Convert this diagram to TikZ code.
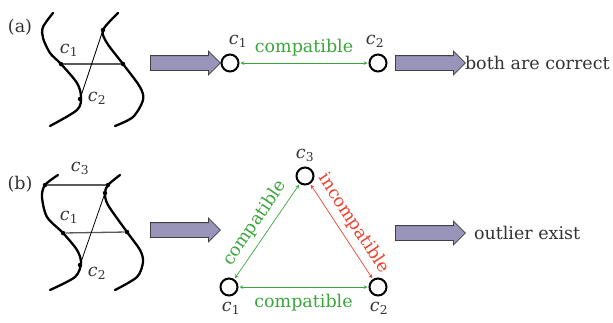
\documentclass[tikz,border=0pt]{standalone}
\usepackage{fontspec}
\setmainfont{DejaVu Serif}
\usetikzlibrary{shapes.arrows}
\definecolor{okgreen}{RGB}{60,165,60}
\definecolor{badred}{RGB}{235,65,45}
\definecolor{arrowfill}{RGB}{152,148,186}
\newcommand{\cvar}[1]{\textit{c}\textsubscript{#1}}
\tikzset{
  vtx/.style={draw, circle, line width=2pt, minimum size=17pt, inner sep=0pt},
  fatarrow/.style={single arrow, draw=black!75, fill=arrowfill, line width=0.8pt, inner xsep=0pt, inner ysep=7pt, single arrow head extend=4.5pt, minimum height=70pt, anchor=tail},
  strand/.style={line width=2.3pt, line cap=round},
  pin/.style={circle, fill, inner sep=0pt, minimum size=4.5pt},
  link/.style={<->, line width=0.7pt, shorten <=1pt, shorten >=1pt},
  lbl/.style={text=black!80},
}
\begin{document}
\fontsize{17.5}{21}\selectfont
\begin{tikzpicture}[x=1pt, y=-1pt, >=stealth]
\useasboundingbox (0,0) rectangle (613,322);
% (a) two strands
\node[lbl] (tagA) at (20,27) {(a)};
\draw[strand] plot[smooth] coordinates {(53,13) (43,27) (43,38) (50,53) (61,64) (77,83) (81,97) (77,110) (50,126)};
\draw[strand] plot[smooth] coordinates {(118,13) (103,30) (107,43) (123,64) (140,87) (143,100) (133,117) (115,126)};
\node[pin] (pA1) at (61,64) {};
\node[pin] (pA2) at (123,64) {};
\node[pin] (pA3) at (103,30) {};
\node[pin] (pA4) at (80,99) {};
\draw[draw=black!65, line width=1.5pt] (pA1) -- (pA2);
\draw[line width=0.8pt] (pA3) -- (pA4);
\node[lbl] (lA1) at (69,50) {\cvar{1}};
\node[lbl] (lA2) at (97,98) {\cvar{2}};
% (a) pair check
\node[fatarrow] (arA1) at (150,63) {};
\node[vtx] (cA1) at (230,63) {};
\node[vtx] (cA2) at (378,63) {};
\node[lbl] (nA1) at (238,41) {\cvar{1}};
\node[lbl] (nA2) at (375,41) {\cvar{2}};
\draw[link, okgreen] (cA1) -- node[above=1pt, text=okgreen] {compatible} (cA2);
\node[fatarrow] (arA2) at (395,63) {};
\node[lbl, anchor=west] (resA) at (459,63) {both are correct};
% (b) two strands
\node[lbl] (tagB) at (20,184) {(b)};
\draw[strand] plot[smooth] coordinates {(58,175) (45,185) (42,197) (47,217) (63,233) (77,250) (81,263) (75,277) (50,290)};
\draw[strand] plot[smooth] coordinates {(120,175) (108,185) (105,193) (108,205) (127,232) (140,250) (143,262) (137,277) (115,290)};
\node[pin] (pB1) at (45,185) {};
\node[pin] (pB2) at (108,185) {};
\node[pin] (pB3) at (63,233) {};
\node[pin] (pB4) at (127,232) {};
\node[pin] (pB5) at (105,193) {};
\node[pin] (pB6) at (80,265) {};
\draw[draw=black!65, line width=1.3pt] (pB1) -- (pB2);
\draw[draw=black!65, line width=1.3pt] (pB3) -- (pB4);
\draw[line width=0.8pt] (pB5) -- (pB6);
\node[lbl] (lB3) at (80,168) {\cvar{3}};
\node[lbl] (lB1) at (69,217) {\cvar{1}};
\node[lbl] (lB2) at (97,273) {\cvar{2}};
% (b) triple check
\node[fatarrow] (arB1) at (150,230) {};
\node[vtx] (cB3) at (305,176) {};
\node[vtx] (cB1) at (229,287) {};
\node[vtx] (cB2) at (378,287) {};
\node[lbl] (nB3) at (305,155) {\cvar{3}};
\node[lbl] (nB1) at (231,308) {\cvar{1}};
\node[lbl] (nB2) at (379,308) {\cvar{2}};
\draw[link, okgreen] (cB1) -- node[sloped, above=0pt, text=okgreen] {compatible} (cB3);
\draw[link, badred] (cB3) -- node[sloped, above=0pt, text=badred] {incompatible} (cB2);
\draw[link, okgreen] (cB1) -- node[below=1pt, text=okgreen] {compatible} (cB2);
\node[fatarrow] (arB2) at (395,233) {};
\node[lbl, anchor=west] (resB) at (468,233) {outlier exist};
\end{tikzpicture}
\end{document}
